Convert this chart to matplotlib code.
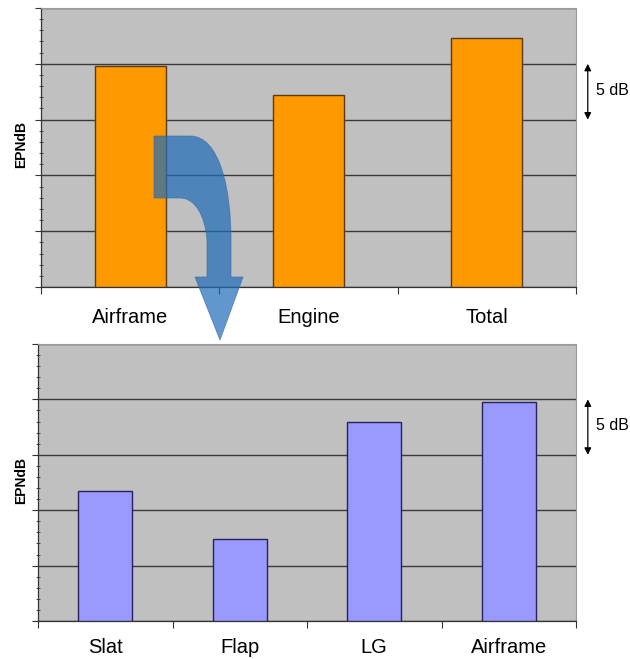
import matplotlib.pyplot as plt
import numpy as np
from matplotlib.path import Path
from matplotlib.patches import PathPatch
from matplotlib.transforms import Affine2D, blended_transform_factory
from matplotlib.ticker import MultipleLocator

plt.rcParams['font.family'] = ['Liberation Sans', 'DejaVu Sans']

# noise levels, EPNdB (relative scale, 5 dB per grid step)
total_labels = ["Airframe", "Engine", "Total"]
total_levels = [19.8, 17.2, 22.3]

airframe_labels = ["Slat", "Flap", "LG", "Airframe"]
airframe_levels = [11.7, 7.4, 18.0, 19.8]

W, H = 630, 659
fig = plt.figure(figsize=(W / 100, H / 100), dpi=100)

ax1 = fig.add_axes([41 / W, 1 - 287 / H, 535 / W, 279 / H])
ax2 = fig.add_axes([38 / W, 1 - 621 / H, 538 / W, 277 / H])


def style_axes(ax, labels, levels, face, edge, pad):
    n = len(labels)
    x = np.arange(n) + 0.5
    ax.set_facecolor('#c0c0c0')
    ax.bar(x, levels, width=0.4, color=face, edgecolor=edge, linewidth=1.0, zorder=3)
    ax.set_xlim(0, n)
    ax.set_ylim(0, 25)
    ax.yaxis.set_major_locator(MultipleLocator(5))
    ax.yaxis.set_minor_locator(MultipleLocator(1))
    ax.set_yticklabels([])
    ax.tick_params(axis='y', which='major', direction='out', length=4, width=0.8, color='#333333')
    ax.tick_params(axis='y', which='minor', direction='inout', length=3, width=0.6, color='#333333')
    ax.grid(axis='y', which='major', color='#3a3a3a', linewidth=1.0, zorder=1)
    ax.set_axisbelow(True)
    ax.set_xticks(np.arange(n + 1))
    ax.set_xticklabels([])
    ax.set_xticks(x, minor=True)
    ax.set_xticklabels(labels, minor=True, fontsize=14.5)
    ax.tick_params(axis='x', which='major', direction='out', length=5, width=0.8, color='#333333')
    ax.tick_params(axis='x', which='minor', length=0, pad=pad)
    for side in ('top', 'right'):
        ax.spines[side].set_color('#9a9a9a')
    for side in ('left', 'bottom'):
        ax.spines[side].set_color('#333333')
        ax.spines[side].set_linewidth(0.9)

    # 5 dB scale marker to the right of the plot
    tr = blended_transform_factory(ax.transAxes, ax.transData)
    ax.annotate('', xy=(1.022, 20), xytext=(1.022, 15), xycoords=tr, textcoords=tr,
                arrowprops=dict(arrowstyle='<|-|>', color='black', lw=0.9,
                                mutation_scale=10, shrinkA=0, shrinkB=0),
                annotation_clip=False)
    ax.text(1.038, 17.6, '5 dB', transform=tr, ha='left', va='center', fontsize=11.5,
            clip_on=False)


style_axes(ax1, total_labels, total_levels, '#ff9900', '#5a3a10', 15)
style_axes(ax2, airframe_labels, airframe_levels, '#9999ff', '#24245a', 12)

fig.text(21 / W, 1 - 145 / H, 'EPNdB', rotation=90, ha='center', va='center',
         fontsize=10, fontweight='bold')
fig.text(21 / W, 1 - 480 / H, 'EPNdB', rotation=90, ha='center', va='center',
         fontsize=10, fontweight='bold')

# curved arrow from the airframe bar down to the breakdown chart (pixel space, y down)
verts = [
    (154, 136), (190, 136),
    (220, 136), (231, 190), (231, 240),
    (231, 277), (243, 277), (220, 340), (195, 277), (207, 277),
    (207, 240),
    (205, 215), (195, 198), (180, 198),
    (154, 198), (154, 136),
]
codes = [
    Path.MOVETO, Path.LINETO,
    Path.CURVE4, Path.CURVE4, Path.CURVE4,
    Path.LINETO, Path.LINETO, Path.LINETO, Path.LINETO, Path.LINETO,
    Path.LINETO,
    Path.CURVE4, Path.CURVE4, Path.CURVE4,
    Path.LINETO, Path.CLOSEPOLY,
]
px = Affine2D().scale(1 / W, -1 / H).translate(0, 1) + fig.transFigure
arrow = PathPatch(Path(verts, codes), facecolor=(0.12, 0.42, 0.72), alpha=0.7,
                  edgecolor=(0.2, 0.42, 0.65), linewidth=0.6, transform=px, zorder=5)
fig.patches.append(arrow)

fig.savefig('out.png', dpi=100)
